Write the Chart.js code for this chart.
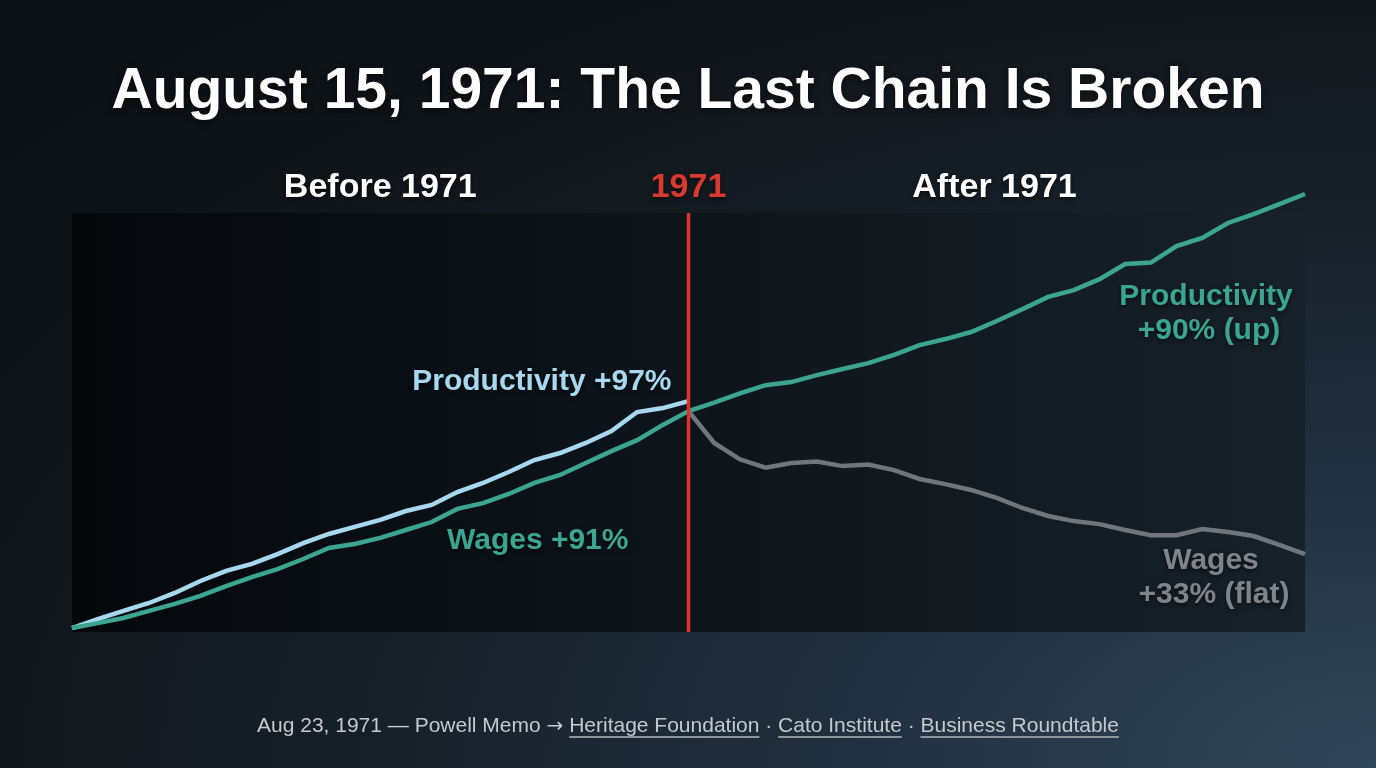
<!DOCTYPE html>
<html>
<head>
<meta charset="utf-8">
<script src="https://cdn.jsdelivr.net/npm/chart.js@4.4.1/dist/chart.umd.min.js"></script>
<style>
  html, body { margin: 0; padding: 0; }
  body {
    width: 1376px; height: 768px; overflow: hidden; position: relative;
    background: radial-gradient(ellipse 150% 150% at 100% 100%, #304759 0%, #213040 25%, #161f27 50%, #0e1318 75%, #0b0f13 100%);
    font-family: "Liberation Sans", Arial, sans-serif;
  }
  h1 {
    position: absolute; left: 0; right: 0; top: 55px; margin: 0;
    text-align: center; color: #fff; font-size: 57px; font-weight: bold;
    text-shadow: 0 2px 6px rgba(0,0,0,0.6);
  }
  .chart-wrap { position: absolute; left: 0; top: 0; width: 1376px; height: 768px; }
  .footer {
    position: absolute; left: 0; right: 0; top: 713px;
    text-align: center; color: #c3c9ce; font-size: 21px;
  }
  .footer a { color: #c3c9ce; text-decoration: underline; text-underline-offset: 4px; text-decoration-color: #8d959c; }
  .arrow { font-family: "DejaVu Sans", sans-serif; font-size: 20px; }
</style>
</head>
<body>
<h1>August 15, 1971: The Last Chain Is Broken</h1>
<div class="chart-wrap"><canvas id="gapChart"></canvas></div>
<div class="footer">Aug 23, 1971 — Powell Memo <span class="arrow">→</span> <a>Heritage Foundation</a> · <a>Cato Institute</a> · <a>Business Roundtable</a></div>

<script>
// index, 1947 = 100
const years = ['1947','1948','1949','1950','1951','1952','1953','1954','1955','1956','1957','1958','1959',
  '1960','1961','1962','1963','1964','1965','1966','1967','1968','1969','1970','1971',
  '1972','1973','1974','1975','1976','1977','1978','1979','1980','1981','1982','1983',
  '1984','1985','1986','1987','1988','1989','1990','1991','1992','1993','1994','1995'];

const productivityBefore = [100, 103.8, 107.3, 110.7, 115.0, 120.1, 124.4, 127.4, 131.6, 136.3, 140.2, 143.2, 146.2,
  150.0, 152.6, 158.1, 162.0, 166.7, 171.8, 174.8, 179.1, 184.2, 192.3, 194.0, 197.0];
const wagesBefore = [100, 102.1, 104.3, 107.3, 110.3, 113.7, 117.9, 121.8, 125.2, 129.5, 134.2, 135.9, 138.5,
  141.9, 145.3, 150.9, 153.4, 157.3, 162.0, 165.4, 170.5, 175.6, 180.3, 186.8, 192.7];
const productivityAfter = [192.7, 196.3, 200.3, 203.8, 205.1, 208.1, 210.7, 213.2, 216.7, 220.9, 223.5, 226.5,
  231.2, 236.3, 241.5, 244.4, 249.1, 255.6, 256.2, 263.2, 266.7, 273.1, 276.9, 281.2, 285.5];
const wagesAfter = [192.7, 179.1, 172.1, 168.5, 170.5, 171.2, 169.2, 169.9, 167.5, 163.7, 161.5, 159.0,
  155.6, 151.3, 147.9, 145.7, 144.4, 141.9, 139.7, 139.7, 142.3, 141.0, 139.3, 135.5, 131.6];

const breakYear = '1971';

const blue = '#a6d8f0';
const teal = '#3ca58f';
const grey = '#6f777d';
const red = '#dc342c';

const pad = Array(years.length - productivityBefore.length).fill(null);

const plotBox = {
  id: 'plotBox',
  beforeDatasetsDraw(chart) {
    const { ctx, chartArea: a } = chart;
    const top = a.top + 23;
    const g = ctx.createLinearGradient(a.left, 0, a.right, 0);
    g.addColorStop(0, '#05080b');
    g.addColorStop(1, '#172129');
    ctx.save();
    ctx.fillStyle = g;
    ctx.fillRect(a.left, top, a.right - a.left, a.bottom - top);
    ctx.restore();
  }
};

const notes = {
  id: 'notes',
  afterDatasetsDraw(chart) {
    const { ctx, chartArea: a, scales } = chart;
    const x71 = scales.x.getPixelForValue(years.indexOf(breakYear));
    ctx.save();
    // 1971 marker line
    ctx.strokeStyle = red;
    ctx.lineWidth = 3.5;
    ctx.beginPath();
    ctx.moveTo(x71, a.top + 23);
    ctx.lineTo(x71, a.bottom);
    ctx.stroke();

    ctx.font = 'bold 34px "Liberation Sans", Arial, sans-serif';
    ctx.textBaseline = 'middle';
    ctx.textAlign = 'center';
    ctx.shadowColor = 'rgba(0,0,0,0.6)';
    ctx.shadowBlur = 4;
    ctx.shadowOffsetY = 2;
    ctx.fillStyle = '#ffffff';
    ctx.fillText('Before 1971', (a.left + x71) / 2, 188);
    ctx.fillText('After 1971', x71 + 306, 188);
    ctx.fillStyle = '#d93a2f';
    ctx.fillText(breakYear, x71, 188);

    ctx.font = 'bold 30px "Liberation Sans", Arial, sans-serif';
    ctx.textAlign = 'right';
    ctx.fillStyle = blue;
    ctx.fillText('Productivity +97%', x71 - 17, 382);
    ctx.textAlign = 'left';
    ctx.fillStyle = teal;
    ctx.fillText('Wages +91%', 447, 541);

    ctx.textAlign = 'center';
    ctx.fillText('Productivity', 1206, 297);
    ctx.fillText('+90% (up)', 1209, 331);
    ctx.fillStyle = '#7d858b';
    ctx.fillText('Wages', 1211, 561);
    ctx.fillText('+33% (flat)', 1214, 595);
    ctx.restore();
  }
};

const lineStyle = { borderWidth: 4.5, pointRadius: 0, tension: 0, spanGaps: false, fill: false };

new Chart(document.getElementById('gapChart'), {
  type: 'line',
  data: {
    labels: years,
    datasets: [
      { label: 'Wages (after 1971)', data: pad.concat(wagesAfter), borderColor: grey, ...lineStyle },
      { label: 'Productivity (after 1971)', data: pad.concat(productivityAfter), borderColor: teal, ...lineStyle },
      { label: 'Wages (before 1971)', data: wagesBefore.concat(pad), borderColor: teal, ...lineStyle },
      { label: 'Productivity (before 1971)', data: productivityBefore.concat(pad), borderColor: blue, ...lineStyle }
    ]
  },
  options: {
    responsive: true,
    maintainAspectRatio: false,
    animation: false,
    layout: { padding: { left: 72, right: 71, top: 190, bottom: 136 } },
    scales: {
      x: { display: false, offset: false },
      y: { display: false, min: 98.3, max: 287.2 }
    },
    plugins: {
      legend: { display: false },
      tooltip: { enabled: false }
    }
  },
  plugins: [plotBox, notes]
});
</script>
</body>
</html>
